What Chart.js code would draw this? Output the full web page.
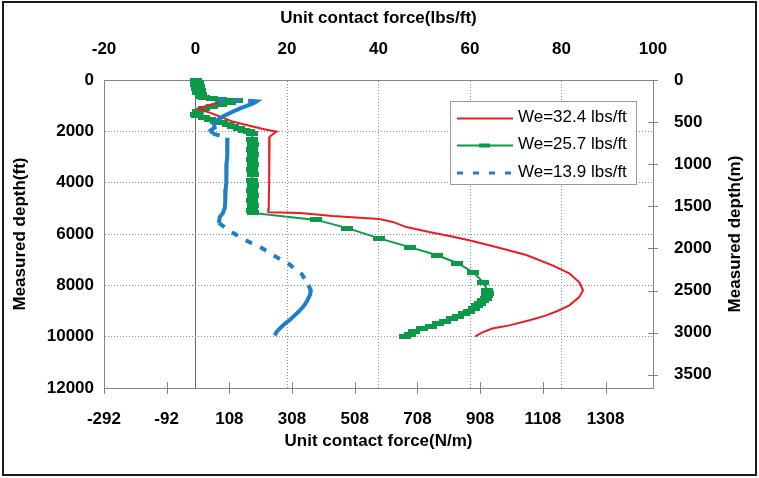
<!DOCTYPE html>
<html>
<head>
<meta charset="utf-8">
<script src="https://cdn.jsdelivr.net/npm/chart.js@4.4.0/dist/chart.umd.min.js"></script>
<style>
html, body { margin: 0; padding: 0; background: #fff; }
#wrap { width: 759px; height: 478px; }
canvas { display: block; }
</style>
</head>
<body>
<div id="wrap"><canvas id="c" width="759" height="478"></canvas></div>
<script>
// Unit contact force along a wellbore for three effective unit weights.
const seriesLabels = ['We=32.4 lbs/ft', 'We=25.7 lbs/ft', 'We=13.9 lbs/ft'];

// Axis tick values
const forceTicksLbs = [-20, 0, 20, 40, 60, 80, 100];
const forceTicksNm = [-292, -92, 108, 308, 508, 708, 908, 1108, 1308];
const depthTicksFt = [0, 2000, 4000, 6000, 8000, 10000, 12000];
const depthTicksM = [0, 500, 1000, 1500, 2000, 2500, 3000, 3500];

// We=32.4 lbs/ft : contact force (lbs/ft) vs measured depth (ft)
const redForce = [5.5, 4.9, 2.5, 0.5, 0.9, 3.1, 5.6, 8.1, 11.8, 15.5, 17.7, 16.2, 16.1, 16.1, 16.1,
  16.0, 15.9, 16.2, 22.8, 30.0, 35.8, 40.2, 43.1, 46.1, 51.1, 55.5, 59.8, 65.7, 72.3, 77.9,
  81.7, 83.9, 84.7, 83.9, 81.7, 79.5, 76.7, 73.0, 68.6, 64.9, 62.7, 61.2];
const redDepth = [820, 880, 1000, 1110, 1150, 1270, 1440, 1620, 1780, 1940, 2010, 2210, 2330, 3000, 4000,
  5000, 5140, 5150, 5180, 5300, 5370, 5420, 5530, 5730, 5920, 6080, 6240, 6510, 6820, 7210,
  7530, 7880, 8190, 8460, 8780, 8970, 9170, 9360, 9560, 9680, 9830, 9990];

// We=25.7 lbs/ft
const greenForce = [0.0, 0.6, 0.1, 0.7, 0.3, 0.9, 0.6, 1.2, 1.3, 1.8,
  3.5, 5.5, 7.5, 9.0,
  7.5, 5.5, 3.5, 1.8, 0.5, 0.0, 0.3,
  1.8, 3.2, 4.5, 5.8, 7.0, 8.2, 9.4, 10.6, 11.8, 12.4,
  12.4, 12.5, 12.4, 12.5, 12.4, 12.5, 12.4, 12.5, 12.4, 12.5, 12.4, 12.5, 12.4, 12.5, 12.4, 12.5,
  26.4, 33.2, 40.0, 46.8, 52.7, 57.2, 60.7, 62.9, 63.8,
  64.0, 63.7, 63.4, 62.8, 62.2, 61.6, 60.8, 59.8, 58.6, 57.3, 56.0, 54.6, 53.0, 51.4, 49.6, 47.8, 46.8, 45.8];
const greenDepth = [0, 80, 160, 240, 320, 400, 480, 560, 640, 700,
  740, 770, 790, 810,
  880, 960, 1040, 1120, 1220, 1330, 1400,
  1460, 1530, 1600, 1670, 1740, 1810, 1880, 1950, 2020, 2100,
  2300, 2500, 2700, 2900, 3100, 3300, 3500, 3700, 3900, 4100, 4300, 4500, 4700, 4900, 5100, 5180,
  5450, 5770, 6160, 6510, 6820, 7130, 7490, 7880, 8190,
  8300, 8400, 8500, 8600, 8700, 8800, 8900, 9000, 9100, 9200, 9300, 9400, 9500, 9600, 9700, 9800, 9900, 9990];

// We=13.9 lbs/ft
const blueForce = [4.8, 7.5, 11.5, 13.4, 13.0, 12.2, 11.2, 10.0, 8.8, 7.6, 6.4, 5.3, 4.5, 4.0, 4.2, 3.3, 3.8,
  7.0, 7.0, 6.9, 6.9, 6.8, 6.8, 6.7, 6.7, 6.6, 6.5, 6.5, 6.4, 6.0, 5.3, 5.1,
  7.5, 10.8, 14.5, 17.7, 20.4, 23.2, 24.7,
  25.2, 25.1, 24.8, 24.4, 23.9, 23.2, 22.4, 21.5, 20.6, 19.5, 18.6, 17.8, 17.3];
const blueDepth = [790, 800, 805, 830, 880, 940, 1010, 1090, 1180, 1280, 1380, 1490, 1600, 1720, 1860, 1970, 2090,
  2250, 2500, 2750, 3000, 3250, 3500, 3750, 4000, 4250, 4500, 4750, 4980, 5180, 5340, 5570,
  5880, 6230, 6550, 6900, 7170, 7560, 7990,
  8190, 8330, 8460, 8600, 8750, 8900, 9050, 9200, 9350, 9500, 9650, 9800, 9950];

const LBF_FT_TO_N_M = 14.5939;
const FT_TO_M = 0.3048;

const FONT = "'Liberation Sans', Arial, sans-serif";
const RED = '#ec1c24';
const GREEN = '#0b9a48';
const BLUE = '#1f80c8';
const AXIS = '#858585';
const ZERO = '#6a6a6a';
const DOT = '#8c8c8c';

const pairs = (xs, ys) => xs.map((x, i) => ({ x: x, y: ys[i] }));
const tickFont = { family: FONT, size: 17, weight: 'bold' };
const titleFont = { family: FONT, size: 17, weight: 'bold' };

// flat rectangular marker used by the 25.7 lbs/ft series
const mark = document.createElement('canvas');
mark.width = 12; mark.height = 5;
(function () { const m = mark.getContext('2d'); m.fillStyle = GREEN; m.fillRect(0, 0, 12, 5); })();

const segLen = c => Math.hypot(c.p1.x - c.p0.x, c.p1.y - c.p0.y);

const frame = {
  id: 'frame',
  afterDraw(chart) {
    const ctx = chart.ctx;
    ctx.save();
    ctx.strokeStyle = '#1a1a1a';
    ctx.lineWidth = 2;
    ctx.strokeRect(3, 2, 753, 473);
    ctx.restore();
  }
};

// tick marks that cross the bottom and right axis lines
const crossTicks = {
  id: 'crossTicks',
  afterDraw(chart) {
    const ctx = chart.ctx;
    const xs = chart.scales.x, ys = chart.scales.y1;
    ctx.save();
    ctx.strokeStyle = AXIS;
    ctx.lineWidth = 1;
    ctx.beginPath();
    xs.ticks.forEach(t => {
      const px = Math.round(xs.getPixelForValue(t.value)) + 0.5;
      ctx.moveTo(px, xs.top - 6);
      ctx.lineTo(px, xs.top + 6);
    });
    ys.ticks.forEach(t => {
      const py = Math.round(ys.getPixelForValue(t.value)) + 0.5;
      ctx.moveTo(ys.left - 5, py);
      ctx.lineTo(ys.left + 5, py);
    });
    ctx.stroke();
    ctx.restore();
  }
};

const rightTitle = {
  id: 'rightTitle',
  afterDraw(chart) {
    const ctx = chart.ctx;
    const ys = chart.scales.y1;
    ctx.save();
    ctx.translate(735, (ys.top + ys.bottom) / 2);
    ctx.rotate(-Math.PI / 2);
    ctx.font = 'bold 17px ' + FONT;
    ctx.fillStyle = '#000';
    ctx.textAlign = 'center';
    ctx.textBaseline = 'middle';
    ctx.fillText('Measured depth(m)', 0, 0);
    ctx.restore();
  }
};

const boxLegend = {
  id: 'boxLegend',
  afterDraw(chart) {
    const ctx = chart.ctx;
    const ds = chart.data.datasets;
    const bx = 450.5, by = 101.5, bw = 186, bh = 83;
    ctx.save();
    ctx.fillStyle = '#fff';
    ctx.fillRect(bx, by, bw, bh);
    ctx.strokeStyle = '#9a9a9a';
    ctx.lineWidth = 1;
    ctx.strokeRect(bx, by, bw, bh);
    const rows = [118.5, 145.5, 173];
    ds.forEach((d, i) => {
      const y = rows[i];
      ctx.save();
      ctx.strokeStyle = d.borderColor;
      ctx.lineWidth = i === 2 ? 3 : 2;
      ctx.setLineDash(i === 2 ? [6, 10] : []);
      ctx.beginPath();
      ctx.moveTo(457, y);
      ctx.lineTo(513, y);
      ctx.stroke();
      ctx.restore();
      if (i === 1) {
        ctx.fillStyle = d.borderColor;
        ctx.fillRect(479, y - 2, 11, 4);
      }
      ctx.fillStyle = '#000';
      ctx.font = '17px ' + FONT;
      ctx.textAlign = 'left';
      ctx.textBaseline = 'middle';
      ctx.fillText(d.label, 518, y - 1);
    });
    ctx.restore();
  }
};

new Chart(document.getElementById('c'), {
  type: 'scatter',
  data: {
    datasets: [
      {
        label: seriesLabels[0], data: pairs(redForce, redDepth), showLine: true,
        borderColor: RED, backgroundColor: RED, borderWidth: 2, pointRadius: 0,
        xAxisID: 'x2', yAxisID: 'y', order: 1
      },
      {
        label: seriesLabels[1], data: pairs(greenForce, greenDepth), showLine: true,
        borderColor: GREEN, backgroundColor: GREEN, borderWidth: 2,
        pointStyle: mark, pointRadius: 3, clip: false,
        xAxisID: 'x2', yAxisID: 'y', order: 2
      },
      {
        label: seriesLabels[2], data: pairs(blueForce, blueDepth), showLine: true,
        borderColor: BLUE, backgroundColor: BLUE, borderWidth: 4, pointRadius: 0,
        borderCapStyle: 'butt', borderDash: [],
        segment: { borderDash: c => (segLen(c) > 11 ? [7, 9] : undefined) },
        xAxisID: 'x2', yAxisID: 'y', order: 0
      }
    ]
  },
  options: {
    responsive: false,
    animation: false,
    devicePixelRatio: 1,
    events: [],
    layout: { padding: 0 },
    plugins: { legend: { display: false }, tooltip: { enabled: false } },
    scales: {
      x2: {
        type: 'linear', position: 'top', min: -20, max: 100,
        afterBuildTicks: s => { s.ticks = forceTicksLbs.map(v => ({ value: v })); },
        afterFit: s => { s.height = 80; },
        ticks: { padding: 20, color: '#000', font: tickFont, maxRotation: 0, autoSkip: false, callback: v => String(v) },
        grid: {
          drawTicks: false, lineWidth: 1,
          color: c => (!c.tick ? DOT : c.tick.value === 0 ? ZERO : (c.tick.value === -20 || c.tick.value === 100) ? 'rgba(0,0,0,0)' : DOT)
        },
        border: { color: AXIS, dash: c => (c.tick && c.tick.value !== 0 ? [1, 2] : []) },
        title: { display: true, text: 'Unit contact force(lbs/ft)', color: '#000', font: titleFont, padding: { top: 8, bottom: 0 } }
      },
      x: {
        type: 'linear', position: 'bottom', min: -20 * LBF_FT_TO_N_M, max: 100 * LBF_FT_TO_N_M,
        afterBuildTicks: s => { s.ticks = forceTicksNm.map(v => ({ value: v })); },
        afterFit: s => { s.height = 90; },
        ticks: { padding: 13, color: '#000', font: tickFont, maxRotation: 0, autoSkip: false, callback: v => String(v) },
        grid: { display: false },
        border: { color: AXIS },
        title: { display: true, text: 'Unit contact force(N/m)', color: '#000', font: titleFont, padding: { top: 0, bottom: 26 } }
      },
      y: {
        type: 'linear', position: 'left', reverse: true, min: 0, max: 12000,
        afterBuildTicks: s => { s.ticks = depthTicksFt.map(v => ({ value: v })); },
        afterFit: s => { s.width = 104; },
        ticks: { padding: 10, color: '#000', font: tickFont, autoSkip: false, callback: v => String(v) },
        grid: {
          drawTicks: false, lineWidth: 1,
          color: c => (!c.tick || c.tick.value === 0 || c.tick.value === 12000 ? 'rgba(0,0,0,0)' : DOT)
        },
        border: { color: AXIS, dash: c => (c.tick ? [1, 2] : []) },
        title: { display: true, text: 'Measured depth(ft)', color: '#000', font: titleFont, padding: { top: 10, bottom: 0 } }
      },
      y1: {
        type: 'linear', position: 'right', reverse: true, min: 0, max: 12000 * FT_TO_M,
        afterBuildTicks: s => { s.ticks = depthTicksM.map(v => ({ value: v })); },
        afterFit: s => { s.width = 106; },
        ticks: { padding: 13, color: '#000', font: tickFont, autoSkip: false, callback: v => String(v) },
        grid: { display: false },
        border: { color: AXIS },
        title: { display: false }
      }
    }
  },
  plugins: [crossTicks, rightTitle, boxLegend, frame]
});
</script>
</body>
</html>
